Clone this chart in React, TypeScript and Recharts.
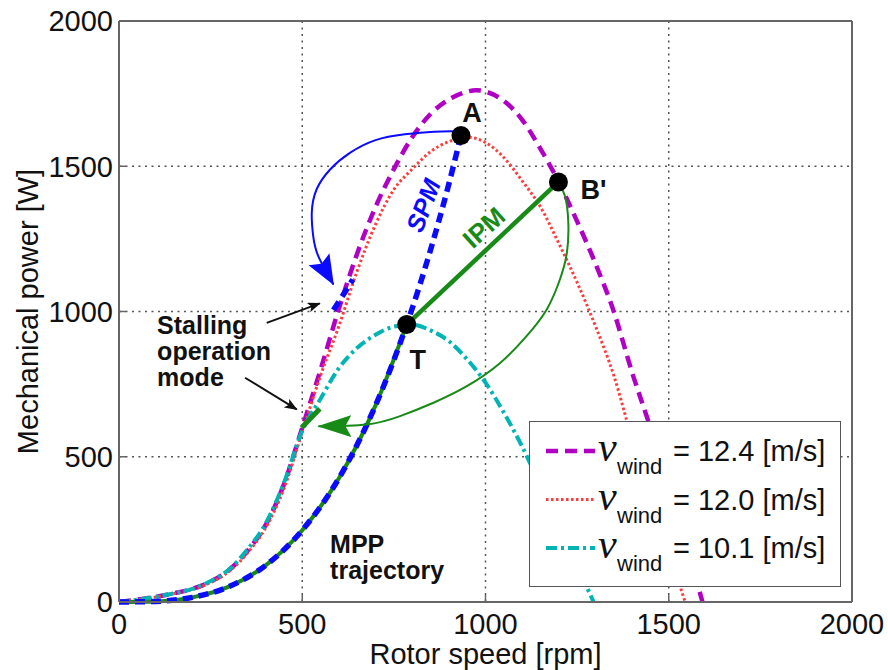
import React from 'react';
import { ComposedChart, Line, XAxis, YAxis, CartesianGrid, ReferenceDot, Legend } from 'recharts';

// ---------------- data ----------------
const axisTicks = [0, 500, 1000, 1500, 2000];

// v_wind = 12.4 m/s
const speed124 = [0, 50, 100, 150, 200, 250, 300, 350, 400, 450, 500, 550, 600, 650, 700, 750, 800, 850, 900, 950, 975, 1000, 1050, 1100, 1150, 1200, 1250, 1300, 1350, 1400, 1450, 1500, 1550, 1592];
const power124 = [0, 8, 18, 30, 45, 70, 110, 175, 265, 405, 600, 800, 1010, 1200, 1360, 1490, 1600, 1680, 1730, 1757, 1762, 1757, 1725, 1660, 1560, 1445, 1310, 1165, 1000, 790, 600, 395, 190, 0];

// v_wind = 12.0 m/s
const speed120 = [0, 50, 100, 150, 200, 250, 300, 350, 400, 450, 500, 550, 600, 650, 700, 750, 800, 850, 900, 950, 1000, 1050, 1100, 1150, 1200, 1250, 1300, 1350, 1400, 1450, 1500, 1545];
const power120 = [0, 8, 17, 29, 43, 67, 105, 168, 255, 390, 585, 780, 950, 1140, 1300, 1420, 1490, 1550, 1585, 1600, 1582, 1530, 1450, 1360, 1235, 1100, 950, 780, 560, 360, 170, 0];

// v_wind = 10.1 m/s
const speed101 = [0, 50, 100, 150, 200, 250, 300, 350, 400, 450, 500, 550, 600, 650, 700, 750, 800, 850, 900, 950, 1000, 1050, 1100, 1150, 1200, 1250, 1295];
const power101 = [0, 8, 18, 30, 45, 72, 112, 180, 270, 410, 590, 700, 805, 875, 920, 948, 955, 935, 898, 835, 755, 652, 535, 400, 265, 125, 0];

// MPP trajectory (0 -> T) and SPM path (T -> A)
const mppSpeed = [0, 100, 200, 300, 400, 500, 600, 700, 785];
const mppPower = [0, 2, 16, 53, 126, 247, 426, 677, 955];
const spmSpeed = [785, 850, 900, 933];
const spmPower = [955, 1212, 1439, 1606];

// IPM path (T -> B')
const ipmSpeed = [785, 1199];
const ipmPower = [955, 1446];

// stalling-mode fragments
const stallGreenSpeed = [498, 548];
const stallGreenPower = [600, 665];
const stallBlueSpeed = [585, 612, 638];
const stallBluePower = [1005, 1058, 1110];

// curved transition arrows
const blueArrowSpeed = [922, 860, 780, 700, 630, 576, 539, 526, 530, 544, 585];
const blueArrowPower = [1620, 1619, 1610, 1590, 1546, 1489, 1420, 1340, 1259, 1190, 1093];
const greenArrowSpeed = [1199, 1217, 1226, 1222, 1203, 1167, 1112, 1040, 949, 858, 767, 676, 544];
const greenArrowPower = [1443, 1397, 1305, 1202, 1110, 1007, 915, 823, 743, 686, 640, 611, 605];

// black pointer arrows for "Stalling operation mode"
const pointer1Speed = [403, 548];
const pointer1Power = [961, 1028];
const pointer2Speed = [344, 485];
const pointer2Power = [772, 663];

// operating points
const pointLabels = ['A', "B'", 'T'];
const pointSpeed = [933, 1199, 785];
const pointPower = [1606, 1446, 955];

const legendValues = ['12.4', '12.0', '10.1'];

// ---------------- helpers / styles ----------------
const pts = (xs: number[], ys: number[]) => xs.map((x, i) => ({ x, y: ys[i] }));

const FONT = "'Liberation Sans', Arial, Helvetica, sans-serif";
const SERIF = "'Liberation Serif', 'Times New Roman', serif";

const windCurves = [
  { value: legendValues[0], data: pts(speed124, power124), color: '#b000c4', width: 4.5, dash: '12 7' },
  { value: legendValues[1], data: pts(speed120, power120), color: '#ff3c3c', width: 3, dash: '2.5 2.5' },
  { value: legendValues[2], data: pts(speed101, power101), color: '#00b4b4', width: 4, dash: '11 4 3 4' },
];

const labelStyles = [
  { dx: 11, dy: -22, anchor: 'middle' },
  { dx: 22, dy: 8, anchor: 'start' },
  { dx: 11, dy: 35, anchor: 'middle' },
];

const BLUE = '#0a0aff';
const GREEN = '#178a17';
const AXIS = '#666';

const LegendBox = () => (
  <div
    style={{
      width: 312,
      height: 166,
      border: '1.5px solid #555',
      background: '#fff',
      boxSizing: 'border-box',
    }}
  >
    <svg width={309} height={163} style={{ display: 'block' }}>
      {windCurves.map((c, i) => {
        const cy = 29 + 48.5 * i;
        return (
          <g key={c.value}>
            <line x1={16} x2={65} y1={cy} y2={cy} stroke={c.color} strokeWidth={c.width} strokeDasharray={c.dash} />
            <text x={68} y={cy + 10} fontFamily={SERIF} fontStyle="italic" fontSize={42} fill="#111">
              v
            </text>
            <text x={87} y={cy + 23} fontFamily={FONT} fontSize={22} fill="#111">
              wind
            </text>
            <text x={143} y={cy + 10} fontFamily={FONT} fontSize={29} fill="#111">
              {`= ${c.value} [m/s]`}
            </text>
          </g>
        );
      })}
    </svg>
  </div>
);

const xTitle = (props: any) => {
  const vb = (props && props.viewBox) || {};
  const cx = (vb.x ?? 119) + (vb.width ?? 733) / 2;
  return (
    <text x={cx} y={664} textAnchor="middle" fontFamily={FONT} fontSize={29} fill="#111">
      Rotor speed [rpm]
    </text>
  );
};

const yTitle = (props: any) => {
  const vb = (props && props.viewBox) || {};
  const cy = (vb.y ?? 21) + (vb.height ?? 581) / 2;
  return (
    <text
      x={28}
      y={cy}
      transform={`rotate(-90 28 ${cy})`}
      textAnchor="middle"
      dominantBaseline="central"
      fontFamily={FONT}
      fontSize={29}
      fill="#111"
    >
      Mechanical power [W]
    </text>
  );
};

const tickStyle = { fontSize: 29, fill: '#111', fontFamily: FONT };

export default function App() {
  return (
    <div style={{ position: 'absolute', left: 0, top: 0, width: 888, height: 670, background: '#fff' }}>
      <svg width={0} height={0} style={{ position: 'absolute' }}>
        <defs>
          <marker id="headGreen" markerUnits="userSpaceOnUse" markerWidth={34} markerHeight={24} viewBox="0 0 34 24" refX={33} refY={12} orient="auto">
            <path d="M0,1 L34,12 L0,23 L6,12 Z" fill={GREEN} />
          </marker>
          <marker id="headBlue" markerUnits="userSpaceOnUse" markerWidth={30} markerHeight={26} viewBox="0 0 30 26" refX={29} refY={13} orient="auto">
            <path d="M0,1 L30,13 L0,25 L5,13 Z" fill={BLUE} />
          </marker>
          <marker id="headBlack" markerUnits="userSpaceOnUse" markerWidth={13} markerHeight={10} viewBox="0 0 13 10" refX={12} refY={5} orient="auto">
            <path d="M0,0 L13,5 L0,10 L3,5 Z" fill="#111" />
          </marker>
        </defs>
      </svg>
      <ComposedChart width={888} height={670} margin={{ top: 1, right: 1, bottom: 0, left: 0 }}>
        <CartesianGrid stroke="#555" strokeWidth={1.5} strokeDasharray="2 4.5" />
        <XAxis
          dataKey="x"
          type="number"
          domain={[0, 2000]}
          ticks={axisTicks}
          height={68}
          tickSize={-7}
          tickMargin={18}
          tick={tickStyle}
          axisLine={{ stroke: AXIS, strokeWidth: 2 }}
          tickLine={{ stroke: AXIS, strokeWidth: 1.5 }}
          interval={0}
          label={xTitle}
        />
        <XAxis
          xAxisId="top"
          orientation="top"
          dataKey="x"
          type="number"
          domain={[0, 2000]}
          ticks={axisTicks}
          height={20}
          tickSize={-7}
          tickFormatter={() => ''}
          axisLine={{ stroke: AXIS, strokeWidth: 2 }}
          tickLine={{ stroke: AXIS, strokeWidth: 1.5 }}
        />
        <YAxis
          type="number"
          domain={[0, 2000]}
          ticks={axisTicks}
          width={119}
          tickSize={-7}
          tickMargin={13}
          tick={tickStyle}
          axisLine={{ stroke: AXIS, strokeWidth: 2 }}
          tickLine={{ stroke: AXIS, strokeWidth: 1.5 }}
          interval={0}
          label={yTitle}
        />
        <YAxis
          yAxisId="right"
          orientation="right"
          type="number"
          domain={[0, 2000]}
          ticks={axisTicks}
          width={35}
          tickSize={-7}
          tickFormatter={() => ''}
          axisLine={{ stroke: AXIS, strokeWidth: 2 }}
          tickLine={{ stroke: AXIS, strokeWidth: 1.5 }}
        />

        {windCurves.map((c) => (
          <Line
            key={c.value}
            data={c.data}
            dataKey="y"
            type="monotone"
            stroke={c.color}
            strokeWidth={c.width}
            strokeDasharray={c.dash}
            dot={false}
            activeDot={false}
            isAnimationActive={false}
          />
        ))}

        {/* MPP trajectory: green solid under blue dashed */}
        <Line data={pts(mppSpeed, mppPower)} dataKey="y" type="monotone" stroke={GREEN} strokeWidth={4} dot={false} activeDot={false} isAnimationActive={false} />
        <Line
          data={pts([...mppSpeed, ...spmSpeed.slice(1)], [...mppPower, ...spmPower.slice(1)])}
          dataKey="y"
          type="monotone"
          stroke={BLUE}
          strokeWidth={5.5}
          strokeDasharray="10 6"
          dot={false}
          activeDot={false}
          isAnimationActive={false}
        />
        {/* IPM */}
        <Line data={pts(ipmSpeed, ipmPower)} dataKey="y" type="linear" stroke={GREEN} strokeWidth={4.5} dot={false} activeDot={false} isAnimationActive={false} />
        {/* stalling fragments */}
        <Line data={pts(stallGreenSpeed, stallGreenPower)} dataKey="y" type="linear" stroke={GREEN} strokeWidth={5} dot={false} activeDot={false} isAnimationActive={false} />
        <Line data={pts(stallBlueSpeed, stallBluePower)} dataKey="y" type="monotone" stroke={BLUE} strokeWidth={5.5} strokeDasharray="10 6" dot={false} activeDot={false} isAnimationActive={false} />

        {/* curved arrows */}
        <Line
          data={pts(blueArrowSpeed, blueArrowPower)}
          dataKey="y"
          type="natural"
          stroke={BLUE}
          strokeWidth={2}
          markerEnd="url(#headBlue)"
          dot={false}
          activeDot={false}
          isAnimationActive={false}
        />
        <Line
          data={pts(greenArrowSpeed, greenArrowPower)}
          dataKey="y"
          type="natural"
          stroke={GREEN}
          strokeWidth={2}
          markerEnd="url(#headGreen)"
          dot={false}
          activeDot={false}
          isAnimationActive={false}
        />
        <Line data={pts(pointer1Speed, pointer1Power)} dataKey="y" type="linear" stroke="#111" strokeWidth={2} markerEnd="url(#headBlack)" dot={false} activeDot={false} isAnimationActive={false} />
        <Line data={pts(pointer2Speed, pointer2Power)} dataKey="y" type="linear" stroke="#111" strokeWidth={2} markerEnd="url(#headBlack)" dot={false} activeDot={false} isAnimationActive={false} />

        {/* operating points */}
        {pointLabels.map((name, i) => (
          <ReferenceDot
            key={name}
            x={pointSpeed[i]}
            y={pointPower[i]}
            r={9}
            shape={(p: any) => (
              <g>
                <circle cx={p.cx} cy={p.cy} r={9.5} fill="#000" />
                <text
                  x={p.cx + labelStyles[i].dx}
                  y={p.cy + labelStyles[i].dy}
                  textAnchor={labelStyles[i].anchor as any}
                  dominantBaseline="central"
                  fontFamily={FONT}
                  fontWeight="bold"
                  fontSize={27}
                  fill="#111"
                >
                  {name}
                </text>
              </g>
            )}
          />
        ))}

        {/* text annotations */}
        <ReferenceDot
          x={830}
          y={1365}
          r={0}
          shape={(p: any) => (
            <text
              x={p.cx}
              y={p.cy}
              transform={`rotate(-69 ${p.cx} ${p.cy})`}
              textAnchor="middle"
              dominantBaseline="central"
              fontFamily={FONT}
              fontWeight="bold"
              fontStyle="italic"
              fontSize={25}
              fill={BLUE}
            >
              SPM
            </text>
          )}
        />
        <ReferenceDot
          x={996}
          y={1289}
          r={0}
          shape={(p: any) => (
            <text
              x={p.cx}
              y={p.cy}
              transform={`rotate(-42 ${p.cx} ${p.cy})`}
              textAnchor="middle"
              dominantBaseline="central"
              fontFamily={FONT}
              fontWeight="bold"
              fontSize={26}
              fill={GREEN}
            >
              IPM
            </text>
          )}
        />
        <ReferenceDot
          x={104}
          y={924}
          r={0}
          shape={(p: any) => (
            <text x={p.cx} y={p.cy} fontFamily={FONT} fontWeight="bold" fontSize={25} fill="#111">
              <tspan x={p.cx} dy={0}>Stalling</tspan>
              <tspan x={p.cx} dy={26.5}>operation</tspan>
              <tspan x={p.cx} dy={26}>mode</tspan>
            </text>
          )}
        />
        <ReferenceDot
          x={576}
          y={170}
          r={0}
          shape={(p: any) => (
            <text x={p.cx} y={p.cy} fontFamily={FONT} fontWeight="bold" fontSize={25} fill="#111">
              <tspan x={p.cx} dy={0}>MPP</tspan>
              <tspan x={p.cx} dy={26}>trajectory</tspan>
            </text>
          )}
        />

        <Legend
          layout="horizontal"
          verticalAlign="middle"
          align="center"
          content={() => <LegendBox />}
          wrapperStyle={{ left: 529, top: 421, width: 312, height: 166 }}
        />
      </ComposedChart>
    </div>
  );
}
